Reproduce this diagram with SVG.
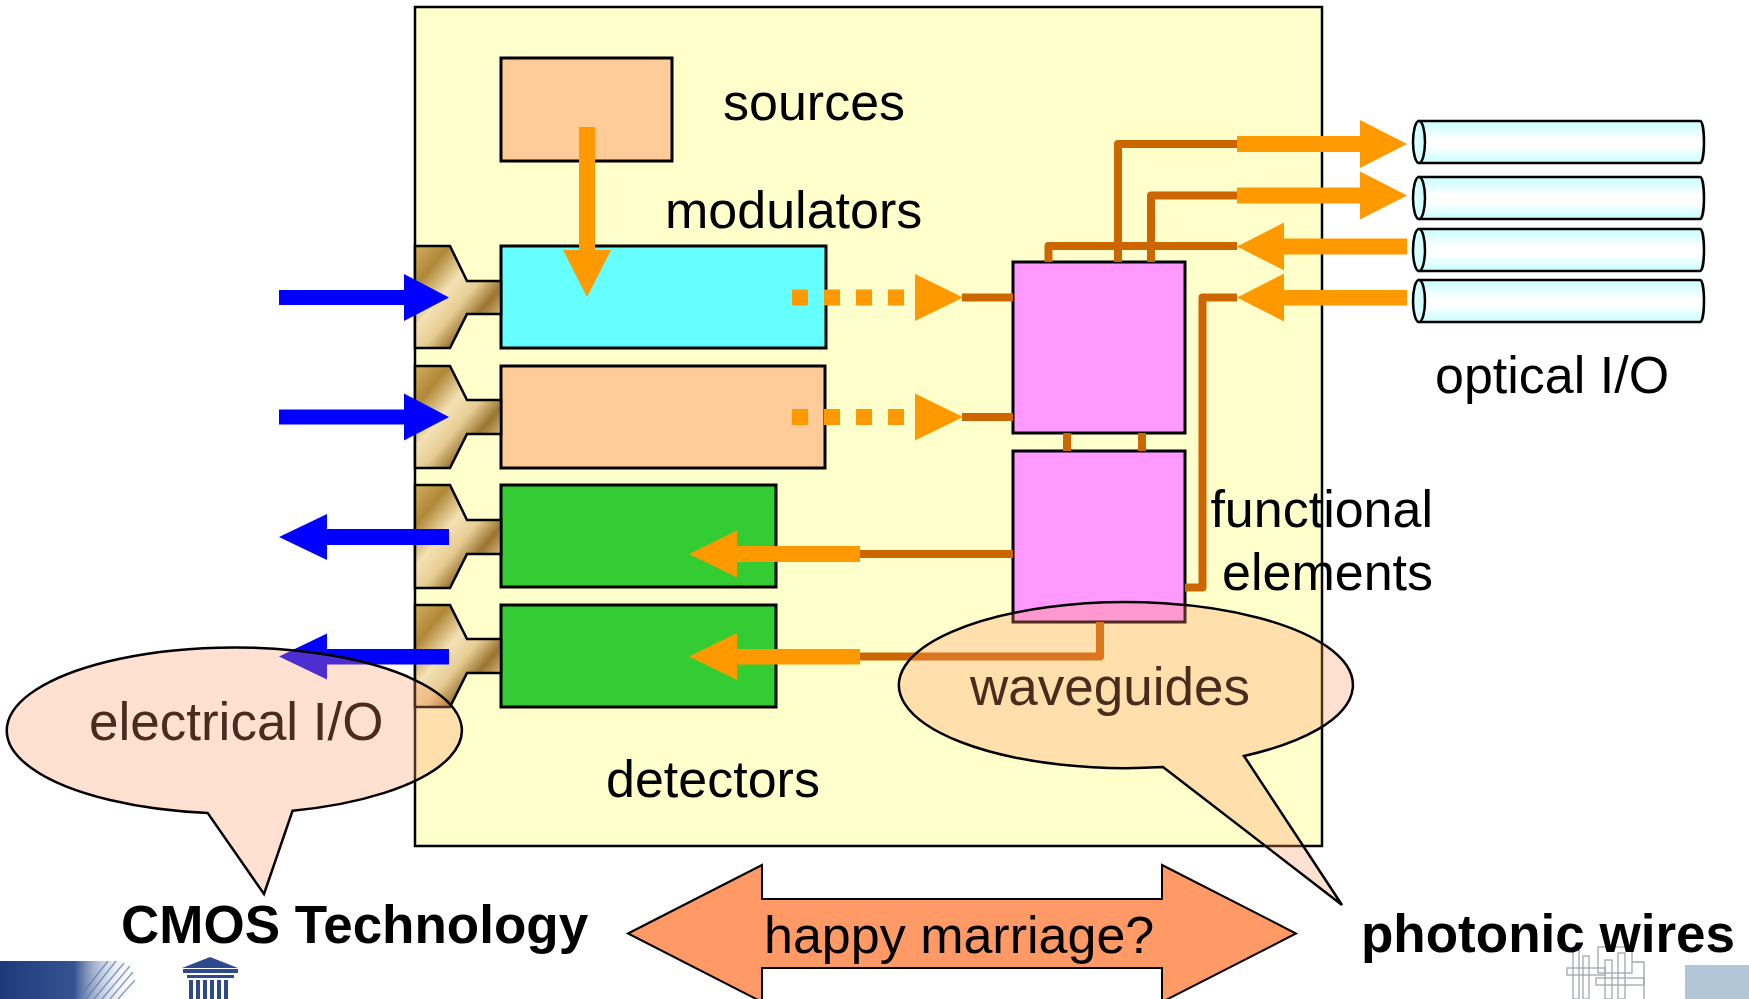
<svg xmlns="http://www.w3.org/2000/svg" width="1749" height="999" viewBox="0 0 1749 999">
  <style>
    .lbl { font-family: "Liberation Sans", Arial, sans-serif; font-size: 52px; fill: #000; }
    .bold { font-family: "Liberation Sans", Arial, sans-serif; font-size: 53px; font-weight: bold; fill: #000; }
    .cal { font-family: "Liberation Sans", Arial, sans-serif; font-size: 53px; fill: #4A2C1E; }
    .box { stroke: #000; stroke-width: 3; }
    .pad { fill: url(#brass); stroke: #000; stroke-width: 2.5; stroke-linejoin: miter; }
    .blue { fill: #0000FF; }
    .orange { fill: #FF9900; }
    .wire { fill: none; stroke: #CC6600; stroke-width: 8; stroke-linejoin: round; }
    .tube { fill: url(#glass); stroke: #000; stroke-width: 2.5; }
    .tubeEnd { fill: #D6FFFF; stroke: #000; stroke-width: 2.5; }
    .bubble { fill: #FF9966; fill-opacity: 0.3; stroke: #000; stroke-width: 2.5; stroke-linejoin: miter; }
  </style>
  <defs>
    <linearGradient id="brass" x1="0" y1="0" x2="1" y2="1">
      <stop offset="0" stop-color="#D2AE5C"/>
      <stop offset="0.2" stop-color="#B08838"/>
      <stop offset="0.4" stop-color="#F4E2B4"/>
      <stop offset="0.55" stop-color="#E6CC92"/>
      <stop offset="0.7" stop-color="#9A7430"/>
      <stop offset="0.86" stop-color="#E0C284"/>
      <stop offset="1" stop-color="#BE9848"/>
    </linearGradient>
    <linearGradient id="glass" x1="0" y1="0" x2="0" y2="1">
      <stop offset="0" stop-color="#C8FFFF"/>
      <stop offset="0.45" stop-color="#FFFFFF"/>
      <stop offset="0.6" stop-color="#FFFFFF"/>
      <stop offset="1" stop-color="#C8FFFF"/>
    </linearGradient>
    <linearGradient id="logoBlue" x1="0" y1="0" x2="1" y2="0">
      <stop offset="0" stop-color="#1E3A7C"/>
      <stop offset="0.55" stop-color="#34538F"/>
      <stop offset="1" stop-color="#FFFFFF" stop-opacity="0"/>
    </linearGradient>
  </defs>

  <!-- white page -->
  <rect x="0" y="0" width="1749" height="999" fill="#FFFFFF"/>

  <!-- chip substrate -->
  <rect id="chip" x="415" y="7" width="907" height="839" fill="#FFFFCC" stroke="#000" stroke-width="2.5"/>

  <!-- optical building blocks -->
  <g id="sources">
    <rect class="box" x="501" y="58" width="171" height="103" fill="#FFCC99"/>
  </g>
  <g id="modulator-1">
    <rect class="box" x="501" y="246" width="325" height="102" fill="#66FFFF"/>
  </g>
  <g id="modulator-2">
    <rect class="box" x="501" y="366" width="324" height="102" fill="#FFCC99"/>
  </g>
  <g id="detector-1">
    <rect class="box" x="501" y="485" width="275" height="102" fill="#33CC33"/>
  </g>
  <g id="detector-2">
    <rect class="box" x="501" y="605" width="275" height="102" fill="#33CC33"/>
  </g>
  <g id="functional-1">
    <rect class="box" x="1013" y="262" width="172" height="171" fill="#FF99FF"/>
  </g>
  <g id="functional-2">
    <rect class="box" x="1013" y="451" width="172" height="171" fill="#FF99FF"/>
  </g>

  <!-- electrical bond pads -->
  <g id="pads">
    <path class="pad" d="M415,246 H450 L467,281 H501 V314 H467 L450,348 H415 Z"/>
    <path class="pad" d="M415,366 H450 L467,400 H501 V434 H467 L450,468 H415 Z"/>
    <path class="pad" d="M415,485 H450 L467,520 H501 V554 H467 L450,588 H415 Z"/>
    <path class="pad" d="M415,605 H450 L467,639 H501 V673 H467 L450,707 H415 Z"/>
  </g>

  <!-- fibre ends -->
  <g id="fibres">
    <path class="tube" d="M1419,121 H1700 A4,21 0 0 1 1700,163 H1419 Z"/>
    <ellipse class="tubeEnd" cx="1419" cy="142" rx="6" ry="21"/>
    <path class="tube" d="M1419,177 H1700 A4,21 0 0 1 1700,219 H1419 Z"/>
    <ellipse class="tubeEnd" cx="1419" cy="198" rx="6" ry="21"/>
    <path class="tube" d="M1419,229 H1700 A4,21 0 0 1 1700,271 H1419 Z"/>
    <ellipse class="tubeEnd" cx="1419" cy="250" rx="6" ry="21"/>
    <path class="tube" d="M1419,280 H1700 A4,21 0 0 1 1700,322 H1419 Z"/>
    <ellipse class="tubeEnd" cx="1419" cy="301" rx="6" ry="21"/>
  </g>

  <!-- connections -->
  <g id="connectors">
    <!-- on-chip waveguides -->
    <path class="wire" d="M1237,144 H1118 V262"/>
    <path class="wire" d="M1237,195.5 H1151 V262"/>
    <path class="wire" d="M1237,246 H1048.5 V262"/>
    <path class="wire" d="M1237,297.5 H1202.5 V587.5 H1185"/>
    <path class="wire" d="M962,297.5 H1013"/>
    <path class="wire" d="M962,417 H1013"/>
    <path class="wire" d="M1067,433 V451 M1142,433 V451"/>
    <path class="wire" d="M860,554 H1013"/>
    <path class="wire" d="M844,656.5 H1100 V622"/>

    <!-- light flow -->
    <path class="orange" d="M579,127 H595 V250 H611 L587,297 L563,250 H579 Z"/>
    <g class="orange">
      <rect x="792" y="289.5" width="16" height="16"/>
      <rect x="824" y="289.5" width="16" height="16"/>
      <rect x="856" y="289.5" width="16" height="16"/>
      <rect x="888" y="289.5" width="16" height="16"/>
      <path d="M915,274 L963,297.5 L915,321 Z"/>
      <rect x="792" y="409" width="16" height="16"/>
      <rect x="824" y="409" width="16" height="16"/>
      <rect x="856" y="409" width="16" height="16"/>
      <rect x="888" y="409" width="16" height="16"/>
      <path d="M915,393.5 L963,417 L915,440.5 Z"/>
    </g>
    <path class="orange" d="M860,546 H737 V530.5 L689,554 L737,577.5 V562 H860 Z"/>
    <path class="orange" d="M860,649 H737 V633 L689,656.5 L737,680 V664.5 H860 Z"/>
    <path class="orange" d="M1237,136 H1360 V120 L1407,144 L1360,168 V152 H1237 Z"/>
    <path class="orange" d="M1237,187.5 H1360 V171.5 L1407,195.5 L1360,219.5 V203.5 H1237 Z"/>
    <path class="orange" d="M1407,238.5 H1284 V222.5 L1237,246.5 L1284,270.5 V254.5 H1407 Z"/>
    <path class="orange" d="M1407,290 H1284 V273.5 L1237,297.5 L1284,321.5 V305.5 H1407 Z"/>

    <!-- electrical signals -->
    <path class="blue" d="M279,290 H404 V274 L449,297.5 L404,321 V305 H279 Z"/>
    <path class="blue" d="M279,409.5 H404 V393.5 L449,417 L404,440.5 V424.5 H279 Z"/>
    <path class="blue" d="M449,529 H327 V514 L279,537 L327,560 V545 H449 Z"/>
    <path class="blue" d="M449,649 H327 V633.5 L279,656.5 L327,679.5 V664.5 H449 Z"/>
  </g>

  <!-- labels -->
  <g id="labels">
    <text class="lbl" x="723" y="120">sources</text>
    <text class="lbl" x="665" y="228">modulators</text>
    <text class="lbl" x="606" y="797">detectors</text>
    <text class="lbl" x="1433" y="527" text-anchor="end">functional</text>
    <text class="lbl" x="1433" y="590" text-anchor="end">elements</text>
    <text class="lbl" x="1435" y="393">optical I/O</text>
  </g>

  <!-- callouts -->
  <g id="callout-electrical">
    <path class="bubble" d="M292.6,810.7 A227.5,83 0 1 0 207.6,812.9 L264,894 Z"/>
    <text class="cal" x="89" y="740">electrical I/O</text>
  </g>
  <g id="callout-waveguides">
    <path class="bubble" d="M1244,756 A227,83 0 1 0 1163,767 L1342,905 Z"/>
    <text class="cal" x="970" y="705">waveguides</text>
  </g>

  <!-- technologies and the link between them -->
  <g id="cmos">
    <text class="bold" x="121" y="943">CMOS Technology</text>
  </g>
  <g id="marriage">
    <path d="M628,933.5 L762,865 V899 H1162 V865 L1296,933.5 L1162,1002 V968 H762 V1002 Z" fill="#FF9966" stroke="#000" stroke-width="2"/>
    <text class="lbl" x="764" y="953">happy marriage?</text>
  </g>

  <!-- footer logos -->
  <g id="logo-left">
    <rect x="0" y="961" width="135" height="38" fill="url(#logoBlue)"/>
    <g stroke="#5E7AB4" stroke-width="1.5" opacity="0.7">
      <path d="M78,999 L108,961 M86,999 L116,961 M94,999 L124,963 M102,999 L130,966 M110,999 L133,972 M118,999 L135,980"/>
    </g>
  </g>
  <g id="logo-temple" fill="#2F4A8C">
    <path d="M182,968 L210,957 L238,968 Z"/>
    <rect x="183" y="969" width="55" height="4"/>
    <rect x="187" y="975" width="47" height="3"/>
    <rect x="189" y="980" width="4" height="19"/>
    <rect x="196" y="980" width="4" height="19"/>
    <rect x="203" y="980" width="4" height="19"/>
    <rect x="210" y="980" width="4" height="19"/>
    <rect x="217" y="980" width="4" height="19"/>
    <rect x="224" y="980" width="4" height="19"/>
  </g>
  <g id="logo-right">
    <g fill="none" stroke="#A2A8B0" stroke-width="1.3">
      <rect x="1573" y="950" width="6" height="49"/>
      <rect x="1583" y="956" width="6" height="43"/>
      <rect x="1567" y="968" width="38" height="7"/>
      <rect x="1598" y="947" width="34" height="26"/>
      <rect x="1605" y="960" width="7" height="39"/>
      <rect x="1618" y="953" width="7" height="46"/>
      <rect x="1596" y="978" width="48" height="7"/>
      <path d="M1632,962 H1644 V999"/>
    </g>
    <rect x="1685" y="965" width="64" height="34" fill="#B3C6D8"/>
  </g>
  <g id="wires-label">
    <text class="bold" x="1361" y="952" font-size="52">photonic wires</text>
  </g>
</svg>
